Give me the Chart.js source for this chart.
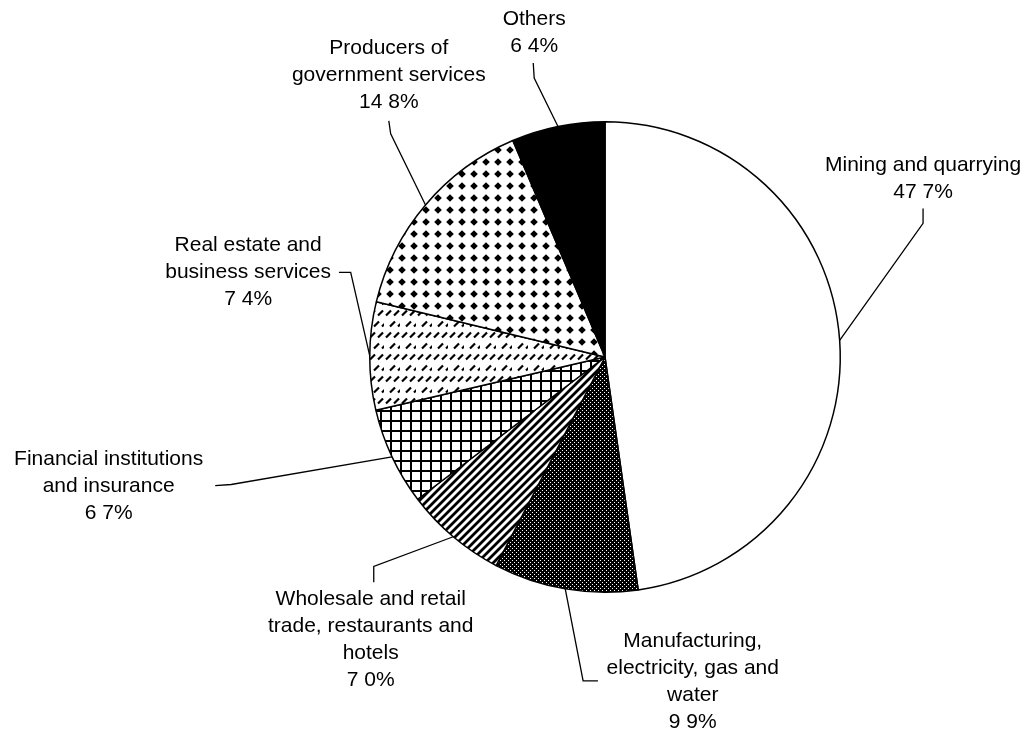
<!doctype html>
<html>
  <head>
    <meta charset="utf-8" />
    <title>GDP by kind of economic activity</title>
    <script src="https://cdn.jsdelivr.net/npm/chart.js@4.4.1/dist/chart.umd.min.js"></script>
    <style>
html, body {
  margin: 0;
  padding: 0;
  background: #fff;
}
#wrap {
  width: 1030px;
  height: 735px;
}
</style>
  </head>
  <body>
    <div id="wrap"><canvas id="myChart" width="1030" height="735"></canvas></div>
    <script>
      // slices clockwise from 12 o'clock
      const categories = [
        'Mining and quarrying',
        'Manufacturing, electricity, gas and water',
        'Wholesale and retail trade, restaurants and hotels',
        'Financial institutions and insurance',
        'Real estate and business services',
        'Producers of government services',
        'Others',
      ];
      const shares = [47.7, 9.9, 7.0, 6.7, 7.4, 14.8, 6.4];
      // label text as printed (broken into lines like the figure)
      const labelLines = [
        ['Mining and quarrying'],
        ['Manufacturing,', 'electricity, gas and', 'water'],
        ['Wholesale and retail', 'trade, restaurants and', 'hotels'],
        ['Financial institutions', 'and insurance'],
        ['Real estate and', 'business services'],
        ['Producers of', 'government services'],
        ['Others'],
      ];
      const pctLabels = ['47 7%', '9 9%', '7 0%', '6 7%', '7 4%', '14 8%', '6 4%'];

      // where the labels sit, in pie radii from the centre
      // text = centre of first line, path = leader points after the rim
      const labelLayout = [
        {text: [1.352, -0.814], path: [[1.352, -0.568], [1.352, -0.631]]},
        {text: [0.373, 1.208], path: [[-0.093, 1.377], [-0.030, 1.377]]},
        {text: [-0.996, 1.030], path: [[-0.983, 0.890], [-0.983, 0.958]]},
        {text: [-2.110, 0.436], path: [[-1.589, 0.542], [-1.657, 0.547]]},
        {text: [-1.517, -0.475], path: [[-1.081, -0.360], [-1.131, -0.360]]},
        {text: [-0.919, -1.314], path: [[-0.911, -0.949], [-0.919, -1.004]]},
        {text: [-0.301, -1.436], path: [[-0.301, -1.186], [-0.305, -1.250]]},
      ];

      function makePattern(w, h, draw) {
        const c = document.createElement('canvas');
        c.width = w;
        c.height = h;
        const g = c.getContext('2d');
        g.fillStyle = '#fff';
        g.fillRect(0, 0, w, h);
        g.fillStyle = '#000';
        g.strokeStyle = '#000';
        draw(g, w, h);
        return g.createPattern(c, 'repeat');
      }

      const fills = [
        '#fff',
        // fine dark stipple
        makePattern(4, 4, (g) => {
          g.fillRect(0, 0, 4, 4);
          g.fillStyle = '#fff';
          g.fillRect(0, 0, 1, 1);
          g.fillRect(2, 2, 1, 1);
        }),
        // diagonal stripes
        makePattern(8, 8, (g) => {
          g.lineWidth = 2.8;
          g.beginPath();
          g.moveTo(-1, 9); g.lineTo(9, -1);
          g.moveTo(-1, 1); g.lineTo(1, -1);
          g.moveTo(7, 9); g.lineTo(9, 7);
          g.stroke();
        }),
        // square grid
        makePattern(10, 10, (g) => {
          g.fillRect(0, 0, 10, 2);
          g.fillRect(0, 0, 2, 10);
        }),
        // rows of short slashes
        makePattern(16, 22, (g) => {
          g.lineWidth = 2.2;
          g.beginPath();
          [[2, 5], [10, 5], [6, 16], [14, 16]].forEach(([x, y]) => {
            g.moveTo(x, y + 2.5);
            g.lineTo(x + 5, y - 2.5);
          });
          g.stroke();
        }),
        // diamond dots
        makePattern(12, 12, (g) => {
          g.beginPath();
          g.moveTo(6, 2.2); g.lineTo(9.8, 6); g.lineTo(6, 9.8); g.lineTo(2.2, 6);
          g.closePath();
          g.fill();
        }),
        '#000',
      ];

      const leaderLabels = {
        id: 'leaderLabels',
        afterDatasetsDraw(chart) {
          const ctx = chart.ctx;
          const arcs = chart.getDatasetMeta(0).data;
          ctx.save();
          ctx.strokeStyle = '#000';
          ctx.lineWidth = 1.3;
          ctx.fillStyle = '#000';
          ctx.font = '21px "Liberation Sans", Arial, Helvetica, sans-serif';
          ctx.textAlign = 'center';
          ctx.textBaseline = 'middle';
          arcs.forEach((arc, i) => {
            const {x, y, startAngle, endAngle, outerRadius} = arc.getProps(['x', 'y', 'startAngle', 'endAngle', 'outerRadius'], true);
            const r = outerRadius;
            const mid = (startAngle + endAngle) / 2;
            const lay = labelLayout[i];
            ctx.beginPath();
            ctx.moveTo(x + Math.cos(mid) * r, y + Math.sin(mid) * r);
            lay.path.forEach(([px, py]) => ctx.lineTo(x + px * r, y + py * r));
            ctx.stroke();
            const lines = labelLines[i].concat([pctLabels[i]]);
            const tx = x + lay.text[0] * r;
            const ty = y + lay.text[1] * r;
            lines.forEach((s, k) => ctx.fillText(s, tx, ty + k * 27));
          });
          ctx.restore();
        }
      };

      const myChart = new Chart(document.getElementById('myChart'), {
        type: 'pie',
        data: {
          labels: categories,
          datasets: [{
            data: shares,
            backgroundColor: fills,
            borderColor: '#000',
            borderWidth: 1.5,
          }]
        },
        options: {
          responsive: false,
          animation: false,
          layout: {padding: {left: 369, right: 189, top: 121, bottom: 142}},
          plugins: {
            legend: {display: false},
            tooltip: {enabled: false},
          }
        },
        plugins: [leaderLabels]
      });
    </script>
  </body>
</html>
